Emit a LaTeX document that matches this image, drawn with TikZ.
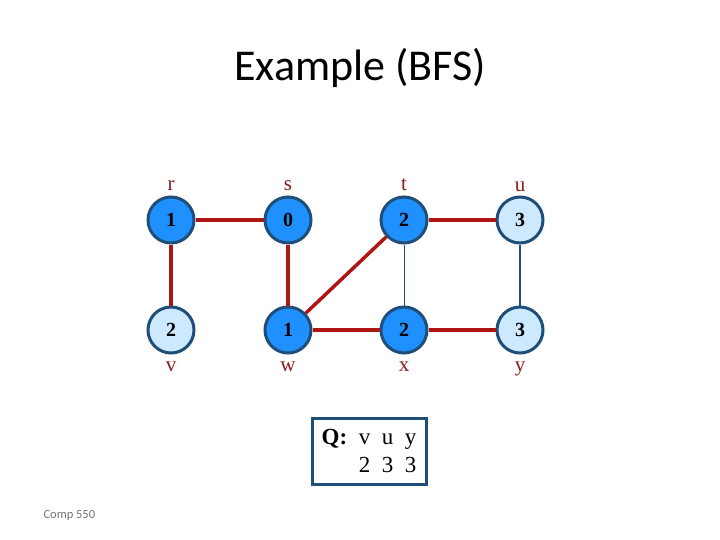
\documentclass[tikz,border=0pt]{standalone}
\usepackage{fontspec}
\setmainfont{Liberation Serif}
\newfontfamily\titlefont{Carlito}
\usetikzlibrary{positioning}
\definecolor{visited}{HTML}{1E90FF}
\definecolor{frontier}{HTML}{CDE9FF}
\definecolor{rim}{HTML}{1F4E79}
\definecolor{treeedge}{HTML}{AE1515}
\definecolor{labelred}{HTML}{8B1A1A}
\tikzset{
	vtx/.style={circle, draw=rim, line width=3pt, minimum size=46pt, inner sep=0pt, font=\fontsize{20}{20}\selectfont\bfseries},
	done/.style={vtx, fill=visited},
	queued/.style={vtx, fill=frontier},
	tree/.style={draw=treeedge, line width=3.5pt},
	plain/.style={draw=rim, line width=1.5pt},
	lbl/.style={text=labelred, font=\fontsize{21}{21}\selectfont}
}

\begin{document}
\begin{tikzpicture}[x=1pt, y=-1pt]
			%%%%% START %%%%%
			
			\useasboundingbox (0, 0) rectangle (720, 540);
			
			\node[font=\titlefont\fontsize{44}{44}\selectfont] (title) at (360, 68) {Example (BFS)};
			
			\node[done] (r) at (171, 220) {1};
			\node[done] (s) at (288, 220) {0};
			\node[done] (t) at (404, 220) {2};
			\node[queued] (u) at (520, 220) {3};
			
			\node[queued] (v) at (171, 330) {2};
			\node[done] (w) at (288, 330) {1};
			\node[done] (x) at (404, 330) {2};
			\node[queued] (y) at (520, 330) {3};
			
			\node[lbl, above=1pt of r] (rl) {r};
			\node[lbl, above=1pt of s] (sl) {s};
			\node[lbl, above=1pt of t] (tl) {t};
			\node[lbl, above=0pt of u] (ul) {u};
			\node[lbl, below=4pt of v] (vl) {v};
			\node[lbl, below=4pt of w] (wl) {w};
			\node[lbl, below=4pt of x] (xl) {x};
			\node[lbl, below=4pt of y] (yl) {y};
			
			\draw[tree] (r) -- (s);
			\draw[tree] (r) -- (v);
			\draw[tree] (s) -- (w);
			\draw[tree] (w) -- (t);
			\draw[tree] (w) -- (x);
			\draw[tree] (t) -- (u);
			\draw[tree] (x) -- (y);
			\draw[plain, line width=1pt] (t) -- (x);
			\draw[plain] (u) -- (y);
			
			\node[draw=rim, line width=3pt, minimum width=114pt, minimum height=66pt, align=left, font=\fontsize{23}{28}\selectfont] (queue) at (369, 451) {\textbf{Q:}~~v~~u~~y\\\hphantom{\textbf{Q:}~~}2~~3~~3};
			
			\node[anchor=west, text=black!55, font=\titlefont\fontsize{12.5}{12.5}\selectfont] (course) at (40, 515) {Comp 550};
			
			%%%%% END %%%%%
\end{tikzpicture}
\end{document}
